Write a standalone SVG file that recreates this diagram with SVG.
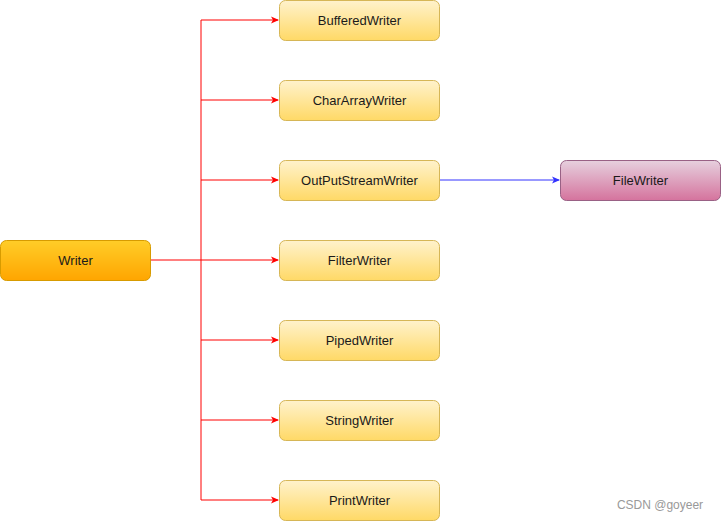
<svg xmlns="http://www.w3.org/2000/svg" width="721" height="521" viewBox="0 0 721 521">
<defs>
<linearGradient id="gW" x1="0" y1="0" x2="0" y2="1"><stop offset="0" stop-color="#ffcd28"/><stop offset="1" stop-color="#ffa500"/></linearGradient>
<linearGradient id="gY" x1="0" y1="0" x2="0" y2="1"><stop offset="0" stop-color="#fff2cc"/><stop offset="1" stop-color="#ffd966"/></linearGradient>
<linearGradient id="gP" x1="0" y1="0" x2="0" y2="1"><stop offset="0" stop-color="#e6d0de"/><stop offset="1" stop-color="#d5739d"/></linearGradient>
<marker id="ar" markerWidth="8" markerHeight="8" refX="7" refY="4" orient="auto" markerUnits="userSpaceOnUse"><path d="M0,0.5 L8,4 L0,7.5 L2,4 Z" fill="#ff0000"/></marker>
<marker id="ab" markerWidth="8" markerHeight="8" refX="7" refY="4" orient="auto" markerUnits="userSpaceOnUse"><path d="M0,0.5 L8,4 L0,7.5 L2,4 Z" fill="#3333ff"/></marker>
</defs>
<style>
text{font-family:"Liberation Sans",Arial,sans-serif;font-size:13px;fill:#1a1a1a;text-anchor:middle;dominant-baseline:central}
.y{fill:url(#gY);stroke:#d6b656}
.r{fill:none;stroke:#ff0000;stroke-width:1}
</style>
<rect width="721" height="521" fill="#fff"/>
<g id="connectors">
<path class="r" d="M150,260 H201 V20 H278" marker-end="url(#ar)"/>
<path class="r" d="M201,100 H278" marker-end="url(#ar)"/>
<path class="r" d="M201,180 H278" marker-end="url(#ar)"/>
<path class="r" d="M201,260 H278" marker-end="url(#ar)"/>
<path class="r" d="M201,340 H278" marker-end="url(#ar)"/>
<path class="r" d="M201,420 H278" marker-end="url(#ar)"/>
<path class="r" d="M201,260 V500 H278" marker-end="url(#ar)"/>
<path d="M439.5,180 H559" fill="none" stroke="#3333ff" marker-end="url(#ab)"/>
</g>
<g id="writer"><rect x="0.5" y="240.5" width="150" height="40" rx="6" fill="url(#gW)" stroke="#d79b00"/><text x="75.5" y="260">Writer</text></g>
<g id="bufferedwriter"><rect class="y" x="279.5" y="0.5" width="160" height="40" rx="6"/><text x="359.5" y="20">BufferedWriter</text></g>
<g id="chararraywriter"><rect class="y" x="279.5" y="80.5" width="160" height="40" rx="6"/><text x="359.5" y="100">CharArrayWriter</text></g>
<g id="outputstreamwriter"><rect class="y" x="279.5" y="160.5" width="160" height="40" rx="6"/><text x="359.5" y="180">OutPutStreamWriter</text></g>
<g id="filterwriter"><rect class="y" x="279.5" y="240.5" width="160" height="40" rx="6"/><text x="359.5" y="260">FilterWriter</text></g>
<g id="pipedwriter"><rect class="y" x="279.5" y="320.5" width="160" height="40" rx="6"/><text x="359.5" y="340">PipedWriter</text></g>
<g id="stringwriter"><rect class="y" x="279.5" y="400.5" width="160" height="40" rx="6"/><text x="359.5" y="420">StringWriter</text></g>
<g id="printwriter"><rect class="y" x="279.5" y="480.5" width="160" height="40" rx="6"/><text x="359.5" y="500">PrintWriter</text></g>
<g id="filewriter"><rect x="560.5" y="160.5" width="160" height="40" rx="6" fill="url(#gP)" stroke="#996185"/><text x="640.5" y="180">FileWriter</text></g>
<text x="660" y="505" style="font-size:12px;fill:#999">CSDN @goyeer</text>
</svg>
